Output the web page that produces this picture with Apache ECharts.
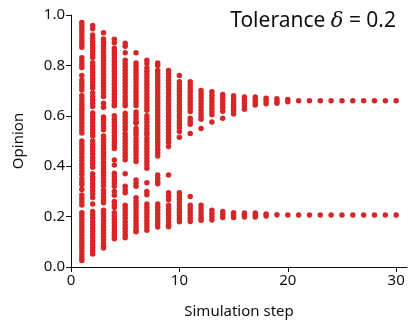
<!DOCTYPE html>
<html><head><meta charset="utf-8">
<script src="https://cdn.jsdelivr.net/npm/echarts@6/dist/echarts.min.js"></script>
<style>html,body{margin:0;padding:0;background:#fff}#c{width:409px;height:325px}</style>
</head><body><div id="c"></div>
<script>
const steps = [1,2,3,4,5,6,7,8,9,10,11,12,13,14,15,16,17,18,19,20,21,22,23,24,25,26,27,28,29,30];
const step1 = [0.970,0.958,0.946,0.934,0.921,0.909,0.896,0.884,0.872,0.830,0.817,0.804,0.792,0.760,0.741,0.728,0.715,0.702,0.681,0.668,0.655,0.642,0.629,0.620,0.608,0.596,0.583,0.570,0.557,0.544,0.532,0.500,0.487,0.474,0.461,0.449,0.436,0.423,0.408,0.394,0.380,0.367,0.350,0.337,0.326,0.308,0.286,0.272,0.259,0.246,0.215,0.203,0.190,0.178,0.165,0.152,0.140,0.127,0.114,0.101,0.089,0.076,0.063,0.050,0.038,0.026];
const step2 = [0.958,0.945,0.921,0.908,0.895,0.882,0.869,0.856,0.843,0.831,0.811,0.798,0.785,0.772,0.760,0.747,0.734,0.721,0.709,0.690,0.677,0.663,0.650,0.637,0.611,0.598,0.585,0.572,0.559,0.546,0.533,0.520,0.500,0.487,0.474,0.461,0.448,0.435,0.422,0.409,0.396,0.370,0.357,0.345,0.330,0.317,0.303,0.290,0.276,0.250,0.220,0.207,0.194,0.181,0.168,0.155,0.142,0.129,0.116,0.103,0.090,0.077,0.064,0.052];
const step3 = [0.930,0.905,0.892,0.879,0.866,0.853,0.840,0.830,0.818,0.805,0.792,0.779,0.766,0.753,0.740,0.730,0.717,0.703,0.690,0.677,0.650,0.634,0.595,0.582,0.569,0.557,0.545,0.520,0.507,0.494,0.481,0.468,0.455,0.442,0.430,0.415,0.402,0.389,0.376,0.363,0.350,0.337,0.322,0.305,0.292,0.279,0.266,0.255,0.225,0.212,0.199,0.186,0.173,0.160,0.147,0.134,0.121,0.108,0.095,0.082,0.075];
const step4 = [0.904,0.890,0.868,0.855,0.842,0.829,0.816,0.803,0.790,0.777,0.764,0.751,0.738,0.725,0.712,0.699,0.686,0.673,0.660,0.647,0.640,0.600,0.587,0.574,0.561,0.548,0.535,0.522,0.509,0.496,0.483,0.470,0.425,0.405,0.372,0.359,0.346,0.333,0.320,0.300,0.285,0.260,0.246,0.236,0.215,0.202,0.189,0.176,0.163,0.150,0.137,0.124,0.112];
const step5 = [0.888,0.876,0.850,0.820,0.807,0.794,0.781,0.768,0.755,0.742,0.729,0.716,0.703,0.690,0.677,0.664,0.651,0.640,0.610,0.597,0.584,0.571,0.558,0.546,0.530,0.517,0.504,0.491,0.478,0.465,0.452,0.439,0.426,0.370,0.320,0.307,0.295,0.245,0.232,0.219,0.206,0.193,0.180,0.167,0.154,0.141,0.128,0.116];
const step6 = [0.850,0.810,0.797,0.784,0.771,0.758,0.745,0.732,0.719,0.706,0.693,0.680,0.667,0.654,0.641,0.615,0.602,0.589,0.576,0.570,0.550,0.537,0.525,0.510,0.497,0.484,0.471,0.458,0.445,0.432,0.419,0.345,0.332,0.320,0.275,0.262,0.249,0.236,0.223,0.210,0.197,0.184,0.171,0.158,0.145,0.140];
const step7 = [0.820,0.808,0.790,0.777,0.764,0.751,0.738,0.725,0.712,0.699,0.686,0.673,0.660,0.647,0.634,0.622,0.600,0.587,0.574,0.561,0.548,0.535,0.525,0.510,0.497,0.484,0.471,0.458,0.445,0.432,0.419,0.406,0.392,0.334,0.300,0.287,0.250,0.237,0.224,0.211,0.198,0.185,0.172,0.159,0.146];
const step8 = [0.810,0.800,0.780,0.767,0.754,0.741,0.728,0.715,0.702,0.689,0.676,0.663,0.650,0.637,0.624,0.611,0.598,0.585,0.572,0.559,0.546,0.533,0.520,0.507,0.494,0.481,0.466,0.453,0.440,0.365,0.352,0.339,0.330,0.250,0.237,0.224,0.211,0.198,0.185,0.172,0.159];
const step9 = [0.780,0.767,0.754,0.741,0.728,0.715,0.702,0.689,0.676,0.663,0.650,0.637,0.624,0.611,0.598,0.585,0.572,0.559,0.546,0.533,0.520,0.507,0.494,0.478,0.365,0.295,0.281,0.267,0.245,0.232,0.219,0.206,0.193,0.180,0.167,0.160];
const step10 = [0.760,0.735,0.722,0.709,0.696,0.683,0.670,0.657,0.644,0.631,0.618,0.605,0.592,0.579,0.566,0.553,0.538,0.515,0.295,0.282,0.269,0.256,0.243,0.230,0.217,0.204,0.191,0.180];
const step11 = [0.735,0.722,0.709,0.696,0.683,0.670,0.657,0.644,0.631,0.617,0.590,0.577,0.566,0.530,0.280,0.245,0.232,0.219,0.206,0.193,0.181];
const step12 = [0.700,0.687,0.674,0.661,0.648,0.635,0.622,0.609,0.596,0.586,0.550,0.245,0.232,0.219,0.206,0.194,0.186];
const step13 = [0.695,0.682,0.669,0.656,0.643,0.630,0.617,0.604,0.575,0.225,0.212,0.199,0.187];
const step14 = [0.685,0.672,0.659,0.646,0.633,0.618,0.590,0.220,0.208,0.196];
const step15 = [0.680,0.668,0.656,0.644,0.632,0.620,0.607,0.215,0.205,0.196];
const step16 = [0.675,0.663,0.650,0.637,0.626,0.214,0.206,0.198];
const step17 = [0.675,0.664,0.653,0.643,0.214,0.206,0.198];
const step18 = [0.670,0.660,0.648,0.210,0.202];
const step19 = [0.668,0.659,0.650,0.207];
const step20 = [0.665,0.656,0.206];
const convergedOpinions = [0.660,0.206];
const opinionsByStep = [step1,step2,step3,step4,step5,step6,step7,step8,step9,step10,step11,step12,step13,step14,step15,step16,step17,step18,step19,step20,
  convergedOpinions,convergedOpinions,convergedOpinions,convergedOpinions,convergedOpinions,convergedOpinions,convergedOpinions,convergedOpinions,convergedOpinions,convergedOpinions];
const xTicks = [0,10,20,30];
const yTicks = [0.0,0.2,0.4,0.6,0.8,1.0];

const data = [];
steps.forEach((s, i) => opinionsByStep[i].forEach(v => data.push([s, v])));

const FONT = 'Noto Sans';
const chart = echarts.init(document.getElementById('c'), null, {renderer: 'canvas'});
chart.setOption({
  animation: false,
  backgroundColor: '#fff',
  grid: {left: 71, right: 2, top: 15, bottom: 58, containLabel: false},
  title: {
    text: '{n|Tolerance }{d|δ}{n| = 0.2}',
    right: 8, top: 6,
    textStyle: {fontWeight: 'normal', rich: {
      n: {fontFamily: FONT, fontSize: 21, fontWeight: 'normal', color: '#111'},
      d: {fontFamily: 'DejaVu Serif', fontStyle: 'italic', fontWeight: 'normal', fontSize: 21, color: '#111'}
    }}
  },
  xAxis: {
    type: 'value', min: 0, max: 31, interval: 10,
    name: 'Simulation step', nameLocation: 'middle', nameGap: 37,
    nameTextStyle: {fontFamily: FONT, fontSize: 15, color: '#111'},
    axisLine: {show: true, lineStyle: {color: '#111', width: 1}},
    axisTick: {show: true, length: 5, lineStyle: {color: '#111'}},
    axisLabel: {fontFamily: FONT, fontSize: 15, color: '#111', margin: 6,
      showMaxLabel: false, formatter: v => xTicks.includes(v) ? String(v) : ''},
    splitLine: {show: false}
  },
  yAxis: {
    type: 'value', min: 0, max: 1, interval: 0.2,
    name: 'Opinion', nameLocation: 'middle', nameGap: 45, nameRotate: 90,
    nameTextStyle: {fontFamily: FONT, fontSize: 15, color: '#111'},
    axisLine: {show: true, lineStyle: {color: '#111', width: 1}},
    axisTick: {show: true, length: 5, lineStyle: {color: '#111'}},
    axisLabel: {fontFamily: FONT, fontSize: 15, color: '#111', margin: 6,
      formatter: v => { const t = yTicks.find(y => Math.abs(y - v) < 1e-6); return t === undefined ? '' : t.toFixed(1); }},
    splitLine: {show: false}
  },
  series: [{
    type: 'scatter', data: data, symbol: 'circle', symbolSize: 5.5,
    itemStyle: {color: '#d62728', opacity: 1}
  }]
});
</script></body></html>
